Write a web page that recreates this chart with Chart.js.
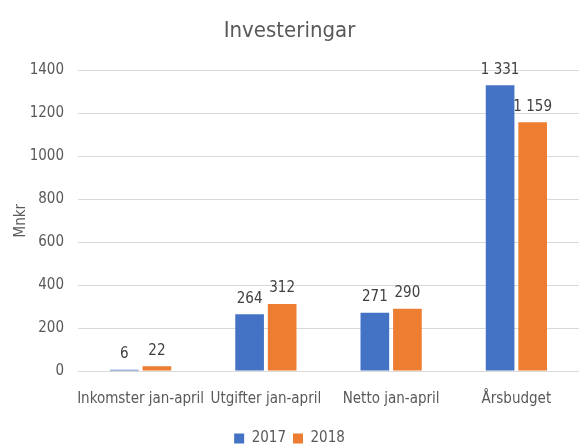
<!DOCTYPE html>
<html>
<head>
<meta charset="utf-8">
<script src="https://cdn.jsdelivr.net/npm/chart.js@4/dist/chart.umd.min.js"></script>
<style>
  html, body { margin: 0; padding: 0; background: #fff; }
  #wrap { width: 579px; height: 448px; }
</style>
</head>
<body>
<div id="wrap"><canvas id="investChart" width="579" height="448"></canvas></div>
<script>
const categories = ['Inkomster jan-april', 'Utgifter jan-april', 'Netto jan-april', 'Årsbudget'];
const values2017 = [6, 264, 271, 1331];
const values2018 = [22, 312, 290, 1159];
const seriesNames = ['2017', '2018'];

const FONT = '"Liberation Sans Narrow", "DejaVu Sans Condensed", sans-serif';
const TEXT = '#595959';

function fmt(v) {
    return String(v).replace(/\B(?=(\d{3})+(?!\d))/g, ' ');
}

// draws the value above every bar
const valueLabels = {
    id: 'valueLabels',
    afterDatasetsDraw(chart) {
        const ctx = chart.ctx;
        ctx.save();
        ctx.font = '15px ' + FONT;
        ctx.fillStyle = '#404040';
        ctx.textAlign = 'center';
        ctx.textBaseline = 'bottom';
        chart.data.datasets.forEach((ds, i) => {
            chart.getDatasetMeta(i).data.forEach((bar, j) => {
                ctx.fillText(fmt(ds.data[j]), bar.x, bar.y - 8);
            });
        });
        ctx.restore();
    }
};

const ctx = document.getElementById('investChart').getContext('2d');
new Chart(ctx, {
    type: 'bar',
    data: {
        labels: categories,
        datasets: [{
            label: seriesNames[0],
            data: values2017,
            backgroundColor: '#4472C4'
        }, {
            label: seriesNames[1],
            data: values2018,
            backgroundColor: '#ED7D31'
        }]
    },
    options: {
        responsive: false,
        animation: false,
        devicePixelRatio: 1,
        layout: { padding: { left: 0, right: 0, top: 0, bottom: -8 } },
        datasets: { bar: { categoryPercentage: 0.52, barPercentage: 0.88 } },
        scales: {
            x: {
                grid: { display: false },
                border: { display: false },
                ticks: { color: TEXT, font: { family: FONT, size: 15 }, padding: 11, maxRotation: 0, autoSkip: false },
                afterFit: s => { s.height += 5; }
            },
            y: {
                min: 0,
                max: 1400,
                ticks: {
                    stepSize: 200, color: TEXT, font: { family: FONT, size: 15 }, padding: 14,
                    callback: v => String(v)
                },
                grid: { color: '#d9d9d9', drawTicks: false },
                border: { display: false },
                title: { display: true, text: 'Mnkr', color: TEXT, font: { family: FONT, size: 15 }, padding: { top: 12, bottom: 0 } },
                afterFit: s => { s.width = 78; }
            }
        },
        plugins: {
            title: {
                display: true,
                text: 'Investeringar',
                color: TEXT,
                font: { family: FONT, size: 22, weight: 'normal' },
                padding: { top: 18, bottom: 26 }
            },
            legend: {
                position: 'bottom',
                labels: { color: TEXT, font: { family: FONT, size: 15 }, boxWidth: 10, boxHeight: 10, padding: 7 }
            },
            tooltip: { enabled: false }
        }
    },
    plugins: [valueLabels]
});
</script>
</body>
</html>
